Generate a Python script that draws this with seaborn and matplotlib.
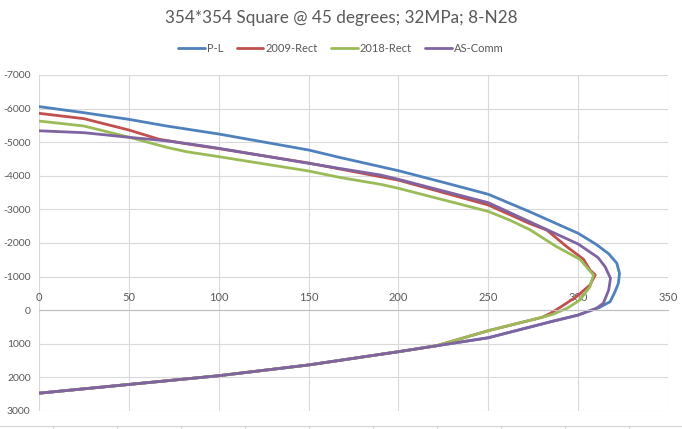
import numpy as np
import pandas as pd
import matplotlib
matplotlib.use("Agg")
import matplotlib.pyplot as plt
from matplotlib.lines import Line2D
import seaborn as sns

# moment (kNm) vs axial load (kN, compression negative)
pl_m = [0, 25, 50, 71, 100, 150, 167, 200, 227, 250, 273, 300, 310, 317, 321.5, 323, 322.4,
        320.5, 317.8, 312, 305, 300, 285, 250, 221, 200, 150, 100, 50, 0]
pl_n = [-6060, -5878, -5680, -5482, -5244, -4768, -4550, -4152, -3777, -3450, -2932, -2289,
        -1961, -1680, -1400, -1100, -800, -550, -253, -86, 45, 145, 340, 820, 1060, 1235,
        1630, 1950, 2210, 2470]

rect2009_m = [0, 25, 50, 67, 90, 100, 150, 200, 250, 273, 282.5, 293.7, 303, 306.6, 309.5,
              306.6, 299, 290, 284, 280, 250, 221, 200, 150, 100, 50, 0]
rect2009_n = [-5860, -5700, -5363, -5085, -4887, -4810, -4380, -3870, -3131, -2580, -2387,
              -1890, -1515, -1196, -1050, -750, -400, -86, 110, 210, 610, 1060, 1235, 1630,
              1950, 2210, 2470]

rect2018_m = [0, 25, 50, 71, 82, 100, 150, 167, 190, 200, 250, 262, 273, 288, 301, 308.5,
              306.6, 301, 294, 286, 280, 250, 221, 200, 150, 100, 50, 0]
rect2018_n = [-5630, -5482, -5150, -4848, -4718, -4570, -4143, -3955, -3747, -3628, -2940,
              -2680, -2400, -1890, -1515, -1050, -700, -304, -60, 120, 210, 610, 1060, 1235,
              1630, 1950, 2210, 2470]

ascomm_m = [0, 25, 50, 71, 90, 100, 150, 167, 190, 200, 250, 273, 300, 311, 315, 318, 317, 314,
            310, 305, 300, 285, 250, 221, 200, 150, 100, 50, 0]
ascomm_n = [-5340, -5283, -5146, -5040, -4900, -4818, -4372, -4222, -4024, -3896, -3200, -2634,
            -1970, -1570, -1295, -950, -600, -205, -50, 45, 145, 340, 820, 1060, 1235, 1630,
            1950, 2210, 2470]

series_names = ["P-L", "2009-Rect", "2018-Rect", "AS-Comm"]
colors = ["#4F81BD", "#C0504D", "#9BBB59", "#8064A2"]

x_ticks = list(range(0, 351, 50))
y_ticks = list(range(-7000, 3001, 1000))
title = "354*354 Square @ 45 degrees; 32MPa; 8-N28"

frames = []
for name, m, n in zip(series_names,
                      [pl_m, rect2009_m, rect2018_m, ascomm_m],
                      [pl_n, rect2009_n, rect2018_n, ascomm_n]):
    frames.append(pd.DataFrame({"M": m, "N": n, "series": name}))
df = pd.concat(frames, ignore_index=True)

sns.set_theme(style="white")
plt.rcParams["font.family"] = ["Lato", "DejaVu Sans"]
plt.rcParams["axes.unicode_minus"] = False

fig = plt.figure(figsize=(6.82, 4.29), dpi=100)
ax = fig.add_axes([39 / 682, 1 - 411 / 429, 629 / 682, 336 / 429])

sns.lineplot(data=df, x="M", y="N", hue="series", hue_order=series_names,
             palette=colors, sort=False, estimator=None, lw=2.0, ax=ax, legend=True)

grey = "#D9D9D9"
text_col = "#595959"
ax.set_xlim(0, 350)
ax.set_ylim(3000, -7000)
ax.set_xticks(x_ticks)
ax.set_yticks(y_ticks)
ax.set_xticklabels([str(v) for v in x_ticks])
ax.set_yticklabels([str(v) for v in y_ticks])
ax.grid(True, color=grey, lw=0.8)
ax.set_xlabel("")
ax.set_ylabel("")

# x axis crosses at N = 0, labels sit above it
for s in ["left", "right", "bottom"]:
    ax.spines[s].set_visible(False)
ax.spines["top"].set_position(("data", 0))
ax.spines["top"].set_color("#BFBFBF")
ax.spines["top"].set_linewidth(0.8)
ax.xaxis.set_ticks_position("top")
ax.tick_params(axis="x", length=0, pad=5.5, labelsize=8, labelcolor=text_col)
ax.tick_params(axis="y", length=0, pad=6, labelsize=7.5, labelcolor=text_col)

handles, labels = ax.get_legend_handles_labels()
ax.get_legend().remove()
fig.legend(handles, labels, loc="center", bbox_to_anchor=(0.5, 1 - 48 / 429), ncol=4,
           frameon=False, fontsize=8, handlelength=2.4, handletextpad=0.2,
           columnspacing=1.2, labelcolor=text_col)

fig.suptitle(title, y=1 - 18 / 429, va="center", fontsize=12.3, color=text_col)

# spreadsheet cell borders peeking in under the chart
fig.add_artist(Line2D([0, 1], [1 - 426 / 429] * 2, transform=fig.transFigure,
                      color="#D4D4D4", lw=0.8))
for px in range(53, 682, 64):
    fig.add_artist(Line2D([px / 682] * 2, [0, 1 - 426 / 429], transform=fig.transFigure,
                          color="#D4D4D4", lw=0.8))

fig.savefig("out.png", dpi=100)
